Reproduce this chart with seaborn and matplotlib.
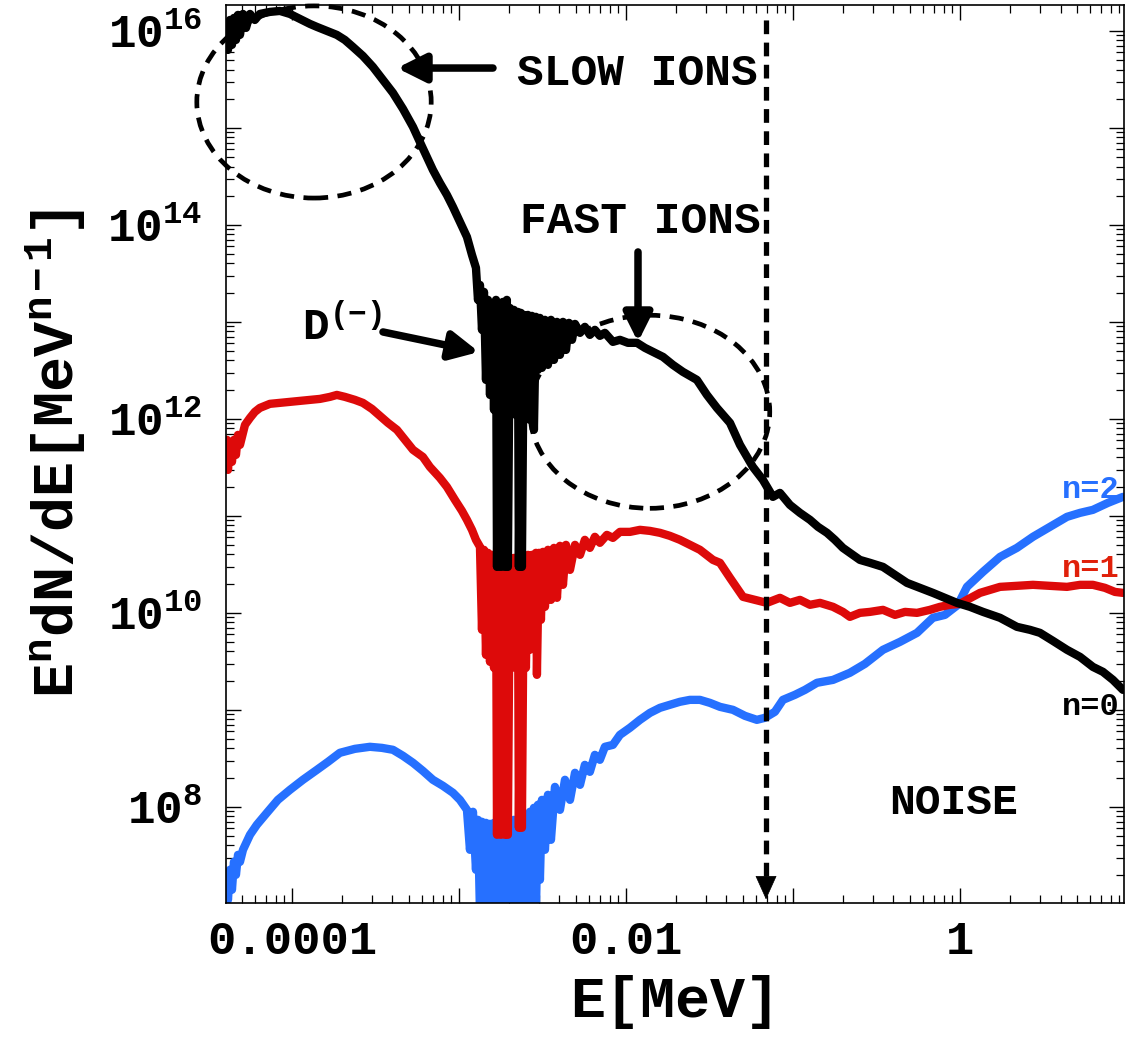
import numpy as np
import pandas as pd
import matplotlib
matplotlib.use("Agg")
import matplotlib.pyplot as plt
from matplotlib.patches import Ellipse
from matplotlib.ticker import FixedLocator, FixedFormatter, NullFormatter
import seaborn as sns

# ---------------- data (log10 of E [MeV] and log10 of E^n dN/dE) ----------------
logE_n0 = [-4.389, -4.383, -4.371, -4.359, -4.347, -4.335, -4.323, -4.311, -4.293, -4.275,
           -4.251, -4.222, -4.192, -4.132, -4.072, -4.012, -3.952, -3.892, -3.850, -3.790,
           -3.731, -3.683, -3.635, -3.575, -3.515, -3.455, -3.395, -3.335, -3.275, -3.234,
           -3.192, -3.156, -3.114, -3.072, -3.036, -2.994, -2.952, -2.922, -2.898,
           -2.886, -2.874, -2.862, -2.850, -2.838, -2.826, -2.814, -2.802, -2.790, -2.778,
           -2.772, -2.760, -2.749, -2.737, -2.725, -2.713, -2.707, -2.695, -2.683, -2.671,
           -2.659, -2.647, -2.641, -2.629, -2.623, -2.611, -2.599, -2.587, -2.575, -2.563,
           -2.551, -2.539, -2.527, -2.515, -2.503, -2.485, -2.467, -2.449, -2.431, -2.413,
           -2.395, -2.377, -2.359, -2.341, -2.323, -2.305, -2.275, -2.246, -2.216, -2.186,
           -2.156, -2.126, -2.078, -2.036, -1.988, -1.934, -1.886, -1.838, -1.778, -1.719,
           -1.659, -1.575, -1.515, -1.455, -1.377, -1.317, -1.240, -1.180, -1.120, -1.078,
           -1.018, -0.958, -0.898, -0.850, -0.796, -0.749, -0.701, -0.659, -0.599, -0.539,
           -0.461, -0.389, -0.317, -0.240, -0.162, -0.090, -0.018, 0.060, 0.138, 0.240,
           0.341, 0.419, 0.479, 0.557, 0.641, 0.719, 0.796, 0.856, 0.916, 0.976]
logS_n0 = [16.062, 15.804, 16.113, 15.856, 16.134, 15.907, 16.165, 15.959, 16.175, 16.031,
           16.175, 16.113, 16.175, 16.196, 16.206, 16.175, 16.124, 16.072, 16.041, 16.000,
           15.959, 15.907, 15.835, 15.742, 15.629, 15.495, 15.361, 15.196, 15.010, 14.856,
           14.701, 14.567, 14.433, 14.309, 14.186, 14.031, 13.876, 13.691, 13.557,
           13.227, 13.381, 12.918, 13.309, 12.402, 13.227, 12.247, 13.175, 12.093, 13.227,
           10.474, 13.175, 10.474, 13.206, 10.474, 13.227, 10.474, 13.144, 12.093, 13.124,
           12.041, 13.103, 10.474, 13.093, 10.474, 13.072, 12.021, 13.072, 11.990, 13.062,
           11.887, 13.052, 12.505, 13.041, 12.526, 13.021, 12.557, 13.021, 12.608, 13.000,
           12.660, 13.000, 12.711, 12.990, 12.815, 12.979, 12.887, 12.949, 12.866, 12.918,
           12.856, 12.887, 12.794, 12.815, 12.784, 12.784, 12.732, 12.691, 12.639, 12.557,
           12.485, 12.402, 12.247, 12.113, 11.959, 11.732, 11.505, 11.371, 11.196, 11.237,
           11.113, 11.031, 10.959, 10.887, 10.825, 10.753, 10.670, 10.619, 10.546, 10.516,
           10.474, 10.392, 10.309, 10.258, 10.206, 10.155, 10.103, 10.062, 10.010, 9.949,
           9.856, 9.825, 9.794, 9.711, 9.619, 9.546, 9.443, 9.392, 9.309, 9.206]

logE_n1 = [-4.389, -4.383, -4.371, -4.359, -4.347, -4.335, -4.323, -4.311, -4.281, -4.251,
           -4.222, -4.192, -4.132, -4.072, -4.012, -3.952, -3.892, -3.832, -3.772, -3.731,
           -3.683, -3.623, -3.575, -3.521, -3.473, -3.425, -3.371, -3.323, -3.275, -3.216,
           -3.174, -3.114, -3.072, -3.024, -2.982, -2.952, -2.922, -2.898, -2.874,
           -2.862, -2.850, -2.838, -2.826, -2.814, -2.802, -2.790, -2.778, -2.772, -2.760,
           -2.749, -2.737, -2.725, -2.713, -2.707, -2.695, -2.683, -2.671, -2.659, -2.647,
           -2.641, -2.629, -2.623, -2.611, -2.599, -2.587, -2.575, -2.563, -2.551, -2.539,
           -2.533, -2.521, -2.509, -2.497, -2.485, -2.467, -2.449, -2.431, -2.413, -2.395,
           -2.377, -2.359, -2.335, -2.305, -2.275, -2.246, -2.216, -2.186, -2.156, -2.114,
           -2.078, -2.036, -1.976, -1.916, -1.856, -1.796, -1.737, -1.677, -1.617, -1.557,
           -1.479, -1.437, -1.377, -1.299, -1.228, -1.156, -1.078, -1.018, -0.958, -0.898,
           -0.838, -0.760, -0.701, -0.659, -0.599, -0.539, -0.461, -0.389, -0.329, -0.257,
           -0.180, -0.120, -0.060, 0.000, 0.042, 0.120, 0.180, 0.240, 0.329, 0.437,
           0.539, 0.641, 0.719, 0.796, 0.868, 0.928, 0.976]
logS_n1 = [11.784, 11.474, 11.732, 11.557, 11.784, 11.629, 11.835, 11.732, 11.938, 12.010,
           12.072, 12.113, 12.155, 12.165, 12.175, 12.186, 12.196, 12.206, 12.227, 12.247,
           12.227, 12.196, 12.165, 12.103, 12.031, 11.959, 11.887, 11.784, 11.681, 11.608,
           11.505, 11.392, 11.299, 11.165, 11.052, 10.959, 10.856, 10.753, 10.681,
           9.825, 10.650, 9.567, 10.619, 9.495, 10.598, 9.433, 10.588, 7.712, 10.588,
           7.712, 10.577, 7.712, 10.588, 7.712, 10.567, 9.433, 10.567, 9.443, 10.567,
           7.784, 10.588, 7.784, 10.588, 9.433, 10.598, 9.619, 10.598, 9.650, 10.619,
           9.361, 10.619, 9.928, 10.629, 10.062, 10.650, 10.134, 10.670, 10.155, 10.691,
           10.289, 10.701, 10.443, 10.701, 10.598, 10.753, 10.670, 10.784, 10.722, 10.804,
           10.773, 10.835, 10.835, 10.856, 10.845, 10.825, 10.794, 10.753, 10.701, 10.650,
           10.546, 10.516, 10.361, 10.165, 10.134, 10.103, 10.155, 10.103, 10.134, 10.083,
           10.103, 10.062, 10.010, 9.959, 10.000, 10.010, 10.031, 9.979, 10.010, 10.000,
           10.031, 10.062, 10.083, 10.093, 10.134, 10.206, 10.237, 10.268, 10.278, 10.289,
           10.278, 10.268, 10.289, 10.289, 10.258, 10.216, 10.206]

logE_n2 = [-4.389, -4.383, -4.371, -4.359, -4.347, -4.335, -4.323, -4.311, -4.293, -4.251,
           -4.210, -4.150, -4.084, -4.012, -3.934, -3.850, -3.784, -3.713, -3.623, -3.533,
           -3.461, -3.395, -3.335, -3.275, -3.216, -3.156, -3.096, -3.036, -2.994, -2.952,
           -2.934, -2.916, -2.898, -2.886,
           -2.874, -2.862, -2.850, -2.838, -2.826, -2.814, -2.802, -2.790, -2.778, -2.766,
           -2.754, -2.743, -2.731, -2.719, -2.707, -2.695, -2.683, -2.671, -2.659, -2.647,
           -2.635, -2.623, -2.611, -2.599, -2.587, -2.575, -2.563, -2.551, -2.539, -2.527,
           -2.515, -2.503, -2.485, -2.467, -2.449, -2.425, -2.395, -2.365, -2.335, -2.305,
           -2.275, -2.246, -2.216, -2.186, -2.156, -2.126, -2.078, -2.036, -1.976, -1.916,
           -1.856, -1.796, -1.737, -1.677, -1.617, -1.557, -1.497, -1.437, -1.359, -1.287,
           -1.216, -1.168, -1.108, -1.060, -0.988, -0.928, -0.856, -0.760, -0.659, -0.569,
           -0.461, -0.359, -0.257, -0.162, -0.090, -0.012, 0.042, 0.138, 0.240, 0.341,
           0.437, 0.539, 0.641, 0.719, 0.796, 0.886, 0.976]
logS_n2 = [7.196, 7.041, 7.351, 7.145, 7.433, 7.299, 7.505, 7.433, 7.557, 7.712,
           7.815, 7.938, 8.072, 8.175, 8.279, 8.382, 8.464, 8.557, 8.598, 8.619,
           8.608, 8.588, 8.526, 8.454, 8.371, 8.279, 8.217, 8.145, 8.072, 7.969,
           7.557, 7.949, 7.351, 7.866,
           6.900, 7.846, 6.900, 7.835, 6.900, 7.825, 6.900, 7.835, 6.900, 7.846,
           6.900, 7.846, 6.900, 7.856, 6.900, 7.856, 6.900, 7.866, 6.900, 7.866,
           6.900, 7.876, 6.900, 7.897, 6.900, 7.949, 6.900, 7.990, 6.900, 8.021,
           7.248, 8.072, 7.557, 8.124, 7.660, 8.206, 7.969, 8.279, 8.072, 8.351,
           8.227, 8.433, 8.361, 8.536, 8.485, 8.619, 8.639, 8.742, 8.815, 8.897,
           8.969, 9.021, 9.052, 9.083, 9.103, 9.103, 9.072, 9.031, 9.000, 8.938,
           8.897, 8.918, 8.980, 9.103, 9.155, 9.206, 9.279, 9.309, 9.382, 9.474,
           9.619, 9.701, 9.794, 9.949, 9.979, 10.083, 10.268, 10.423, 10.577, 10.670,
           10.784, 10.887, 10.990, 11.031, 11.062, 11.134, 11.196]

series_names = ["n=2", "n=1", "n=0"]
series_colors = {"n=0": "#000000", "n=1": "#dd0a0a", "n=2": "#2670ff"}

x_major = [1e-4, 1e-3, 1e-2, 1e-1, 1e0]
x_labels = ["0.0001", "", "0.01", "", "1"]
y_major = [1e7, 1e8, 1e9, 1e10, 1e11, 1e12, 1e13, 1e14, 1e15, 1e16]
y_labels = ["", r"$10^{8}$", "", r"$10^{10}$", "", r"$10^{12}$", "", r"$10^{14}$", "", r"$10^{16}$"]
noise_cut_E = 0.069  # MeV, vertical marker

# ---------------- style ----------------
sns.set_style("ticks")
plt.rcParams['font.family'] = ['Liberation Mono', 'DejaVu Sans']
plt.rcParams['font.weight'] = 'bold'
plt.rcParams['mathtext.fontset'] = 'custom'
for k in ['rm', 'it', 'bf', 'sf', 'tt', 'cal']:
    plt.rcParams['mathtext.' + k] = 'Liberation Mono:bold'
plt.rcParams['mathtext.default'] = 'rm'
for k in ['text.color', 'axes.labelcolor', 'xtick.color', 'ytick.color', 'axes.edgecolor']:
    plt.rcParams[k] = 'black'

frames = []
for name, le, ls in [("n=0", logE_n0, logS_n0), ("n=1", logE_n1, logS_n1), ("n=2", logE_n2, logS_n2)]:
    frames.append(pd.DataFrame({"E": np.power(10.0, le), "S": np.power(10.0, ls), "n": name}))
df = pd.concat(frames, ignore_index=True)

fig = plt.figure(figsize=(11.25, 10.4), dpi=100)
ax = fig.add_axes([226 / 1125, 1 - 903 / 1040, 898 / 1125, 898 / 1040])

sns.lineplot(data=df, x="E", y="S", hue="n", hue_order=series_names, palette=series_colors,
             estimator=None, sort=False, lw=6.0, legend=False, ax=ax)

ax.set_xscale("log")
ax.set_yscale("log")
ax.set_xlim(4.03e-5, 9.6)
ax.set_ylim(1.02e7, 1.85e16)

ax.xaxis.set_major_locator(FixedLocator(x_major))
ax.xaxis.set_major_formatter(FixedFormatter(x_labels))
ax.xaxis.set_minor_locator(matplotlib.ticker.LogLocator(base=10, subs=np.arange(2, 10), numticks=30))
ax.xaxis.set_minor_formatter(NullFormatter())
ax.yaxis.set_major_locator(FixedLocator(y_major))
ax.yaxis.set_major_formatter(FixedFormatter(y_labels))
ax.yaxis.set_minor_locator(matplotlib.ticker.LogLocator(base=10, subs=np.arange(2, 10), numticks=30))
ax.yaxis.set_minor_formatter(NullFormatter())

ax.tick_params(which="both", direction="in", top=True, right=True, color="black")
ax.tick_params(which="major", length=11, width=1.0)
ax.tick_params(which="minor", length=5.8, width=0.9)
ax.tick_params(axis="x", which="major", labelsize=34, pad=12)
ax.tick_params(axis="y", which="major", labelsize=33, pad=17)
for s in ax.spines.values():
    s.set_linewidth(1.2)
    s.set_color("black")

ax.set_xlabel("E[MeV]", fontsize=42, fontweight="bold", labelpad=8)
ax.set_ylabel(r"$E^{n}dN/dE[MeV^{n-1}]$", fontsize=42, labelpad=14)

# ---------------- annotations ----------------
dash = (0, (3.0, 2.0))
ax.add_patch(Ellipse((0.098, 0.892), 0.261, 0.214, transform=ax.transAxes, fill=False,
                     ec="k", lw=3.4, ls=dash, clip_on=False, zorder=5))
ax.add_patch(Ellipse((0.472, 0.547), 0.267, 0.215, transform=ax.transAxes, fill=False,
                     ec="k", lw=3.4, ls=dash, zorder=5))

arrow_kw = dict(arrowstyle="-|>,head_length=17,head_width=8.5", color="k", lw=5.4,
                mutation_scale=1, shrinkA=0, shrinkB=0)
ax.annotate("", xy=(0.1904, 0.9298), xytext=(0.2973, 0.9298), xycoords="axes fraction",
            textcoords="axes fraction", arrowprops=arrow_kw, annotation_clip=False)
ax.annotate("", xy=(0.4588, 0.6247), xytext=(0.4588, 0.725), xycoords="axes fraction",
            textcoords="axes fraction", arrowprops=arrow_kw, annotation_clip=False)
ax.annotate("", xy=(0.2817, 0.6136), xytext=(0.1748, 0.6359), xycoords="axes fraction",
            textcoords="axes fraction", arrowprops=arrow_kw, annotation_clip=False)

trans = ax.get_xaxis_transform()
ax.plot([noise_cut_E, noise_cut_E], [0.03, 0.992], transform=trans, color="k", lw=3.8,
        ls=(0, (2.6, 1.6)), zorder=5)
ax.annotate("", xy=(noise_cut_E, 0.004), xytext=(noise_cut_E, 0.04), xycoords=trans,
            textcoords=trans,
            arrowprops=dict(arrowstyle="-|>,head_length=16,head_width=7.2", color="k", lw=0.5,
                            mutation_scale=1, shrinkA=0, shrinkB=0))

txt_kw = dict(transform=ax.transAxes, fontweight="bold", va="baseline")
ax.text(0.324, 0.911, "SLOW IONS", fontsize=32, ha="left", color="k", **txt_kw)
ax.text(0.327, 0.746, "FAST IONS", fontsize=32, ha="left", color="k", **txt_kw)
ax.text(0.0846, 0.627, r"$D^{(-)}$", fontsize=32, ha="left", color="k", **txt_kw)
ax.text(0.739, 0.099, "NOISE", fontsize=31, ha="left", color="k", **txt_kw)
ax.text(0.9955, 0.451, "n=2", fontsize=23, ha="right", color=series_colors["n=2"], **txt_kw)
ax.text(0.9955, 0.363, "n=1", fontsize=23, ha="right", color="#e0200a", **txt_kw)
ax.text(0.9955, 0.2094, "n=0", fontsize=23, ha="right", color="k", **txt_kw)

fig.savefig("out.png", dpi=100)
